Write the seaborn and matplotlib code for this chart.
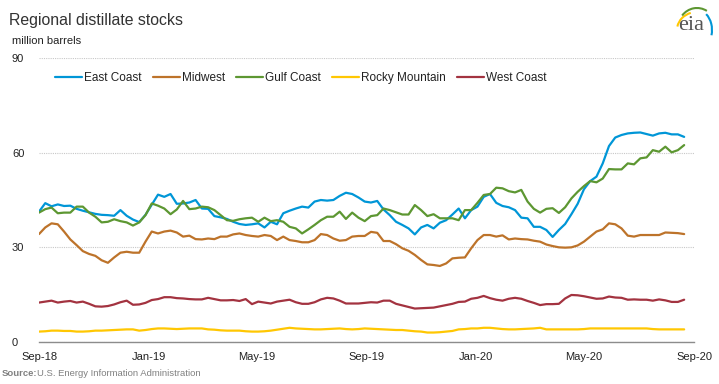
import pandas as pd
import matplotlib
matplotlib.use("Agg")
import matplotlib.pyplot as plt
import matplotlib.dates as mdates
from matplotlib.patches import Arc
from matplotlib.transforms import IdentityTransform
import seaborn as sns

# weekly stocks, million barrels, 2018-08-31 .. 2020-08-21
dates = pd.date_range("2018-08-31", periods=104, freq="7D")

east_coast = [41.3, 44.0, 43.0, 43.6, 43.1, 43.2, 42.2, 41.6, 41.1, 40.6,
              40.3, 40.2, 40.0, 41.8, 40.0, 38.8, 38.0, 40.3, 43.5, 46.7,
              46.0, 46.9, 43.8, 43.9, 44.2, 45.0, 42.3, 42.2, 39.9, 39.5,
              39.0, 38.1, 37.4, 37.1, 37.3, 37.6, 36.3, 38.1, 37.3, 40.8,
              41.6, 42.3, 42.9, 42.6, 44.5, 45.0, 44.8, 45.0, 46.3, 47.3,
              46.9, 45.8, 44.5, 44.2, 44.7, 42.0, 40.2, 38.1, 37.1, 36.0,
              34.1, 36.3, 37.1, 36.0, 37.8, 38.6, 40.4, 42.3, 39.2, 41.8,
              42.9, 46.0, 46.9, 44.1, 43.1, 42.7, 41.8, 39.4, 39.2, 36.5,
              36.5, 35.5, 33.3, 35.5, 37.4, 40.5, 43.8, 48.4, 51.0, 52.4,
              56.6, 62.1, 64.8, 65.6, 66.1, 66.3, 66.4, 65.9, 65.4, 66.1,
              66.3, 65.8, 65.8, 65.0]

midwest = [34.2, 36.3, 37.6, 37.3, 35.0, 32.5, 30.7, 28.8, 27.9, 27.3,
           25.9, 25.1, 26.8, 28.3, 28.6, 28.3, 28.3, 31.8, 35.0, 34.4,
           35.0, 35.3, 34.7, 33.4, 33.7, 32.6, 32.5, 32.8, 32.6, 33.4,
           33.4, 34.1, 34.4, 33.9, 33.6, 33.4, 33.9, 33.6, 32.3, 33.4,
           32.3, 32.0, 31.6, 31.6, 32.3, 34.2, 33.9, 32.8, 32.1, 32.3,
           33.4, 33.6, 33.6, 34.9, 34.6, 32.0, 32.0, 31.0, 29.7, 28.9,
           27.6, 26.0, 24.6, 24.4, 24.1, 24.9, 26.5, 26.7, 26.8, 29.7,
           32.3, 33.9, 33.9, 33.4, 33.8, 32.5, 32.8, 32.6, 32.5, 32.1,
           31.8, 30.9, 30.4, 30.0, 29.9, 30.0, 30.6, 31.8, 33.4, 35.0,
           35.7, 37.6, 37.3, 36.0, 33.7, 33.4, 33.9, 33.9, 33.9, 33.9,
           34.7, 34.6, 34.5, 34.2]

gulf_coast = [41.0, 42.1, 42.6, 40.8, 41.0, 41.0, 42.9, 42.9, 41.0, 39.7,
              37.9, 38.1, 38.9, 38.3, 37.9, 36.9, 37.9, 40.2, 43.9, 43.2,
              42.3, 40.5, 42.0, 44.7, 42.1, 42.3, 42.9, 42.7, 41.8, 40.2,
              38.6, 38.4, 38.9, 39.2, 39.4, 38.1, 39.4, 38.3, 38.6, 38.1,
              36.5, 36.0, 34.4, 35.7, 37.1, 38.6, 39.7, 39.7, 41.3, 39.0,
              41.0, 39.4, 38.3, 39.9, 40.2, 42.3, 41.8, 41.1, 40.4, 40.4,
              43.4, 41.8, 39.9, 40.5, 39.2, 39.2, 39.2, 38.6, 41.8, 41.8,
              44.1, 46.6, 46.9, 48.9, 48.7, 47.8, 47.4, 48.2, 44.5, 42.2,
              41.0, 42.2, 42.4, 40.9, 42.7, 45.5, 47.6, 49.4, 51.0, 50.6,
              51.8, 54.8, 54.7, 54.7, 56.6, 56.3, 58.2, 58.5, 60.8, 60.3,
              61.9, 60.1, 60.8, 62.4]

rocky_mountain = [3.3, 3.4, 3.6, 3.6, 3.5, 3.5, 3.3, 3.3, 3.4, 3.6,
                  3.6, 3.7, 3.8, 3.9, 4.0, 4.0, 3.6, 3.8, 4.1, 4.3,
                  4.3, 4.2, 4.1, 4.2, 4.3, 4.3, 4.3, 4.0, 3.9, 3.7,
                  3.6, 3.6, 3.6, 3.4, 3.3, 3.3, 3.4, 3.6, 3.9, 4.2,
                  4.5, 4.3, 4.2, 4.1, 4.0, 4.0, 4.1, 4.2, 4.3, 4.1,
                  4.0, 4.1, 4.3, 4.2, 4.1, 4.0, 3.9, 3.8, 3.8, 3.6,
                  3.4, 3.3, 3.0, 3.0, 3.1, 3.3, 3.5, 4.0, 4.1, 4.3,
                  4.3, 4.5, 4.5, 4.3, 4.1, 4.0, 4.0, 4.1, 4.2, 4.3,
                  4.5, 4.0, 4.0, 4.0, 4.0, 4.0, 4.0, 4.1, 4.3, 4.3,
                  4.3, 4.3, 4.3, 4.3, 4.3, 4.3, 4.3, 4.3, 4.1, 4.0,
                  4.0, 4.0, 4.0, 4.0]

west_coast = [12.5, 12.8, 13.1, 12.5, 12.8, 13.0, 12.5, 12.8, 12.1, 11.3,
              11.2, 11.4, 11.9, 12.6, 13.1, 11.8, 11.9, 12.4, 13.3, 13.6,
              14.2, 14.2, 13.9, 13.8, 13.6, 13.5, 13.5, 14.0, 13.6, 13.2,
              13.2, 13.3, 13.0, 13.6, 12.0, 12.8, 12.5, 12.2, 12.8, 13.1,
              13.4, 12.6, 12.1, 12.1, 12.6, 13.5, 14.0, 13.8, 13.1, 12.2,
              12.2, 12.2, 12.4, 12.6, 12.5, 13.1, 13.1, 12.1, 11.6, 11.1,
              10.6, 10.7, 10.8, 10.9, 11.3, 11.7, 12.1, 12.7, 12.8, 13.7,
              14.0, 14.6, 13.9, 13.4, 13.1, 13.7, 14.0, 13.7, 13.0, 12.4,
              11.7, 12.0, 12.0, 12.1, 13.8, 14.9, 14.8, 14.5, 14.1, 13.7,
              13.8, 14.4, 14.1, 14.0, 13.4, 13.5, 13.4, 13.4, 13.1, 13.5,
              13.2, 12.7, 12.7, 13.4]

regions = ["East Coast", "Midwest", "Gulf Coast", "Rocky Mountain", "West Coast"]
colors = ["#0096d7", "#bd732a", "#5d9732", "#ffc702", "#a33340"]
ytick_vals = [0, 30, 60, 90]
xtick_dates = ["2018-09-01", "2019-01-01", "2019-05-01", "2019-09-01",
               "2020-01-01", "2020-05-01", "2020-09-01"]

df = pd.DataFrame({"date": dates,
                   "East Coast": east_coast,
                   "Midwest": midwest,
                   "Gulf Coast": gulf_coast,
                   "Rocky Mountain": rocky_mountain,
                   "West Coast": west_coast})
df_long = df.melt(id_vars="date", var_name="region", value_name="stocks")

sns.set_style("white")
plt.rcParams["font.family"] = ["Liberation Sans", "DejaVu Sans"]

fig = plt.figure(figsize=(7.19, 3.84), dpi=100)
ax = fig.add_axes([39 / 719, 1 - 342 / 384, 655 / 719, 284 / 384])

sns.lineplot(data=df_long, x="date", y="stocks", hue="region",
             hue_order=regions, palette=dict(zip(regions, colors)),
             linewidth=1.6, ax=ax)

ax.set_xlim(pd.Timestamp("2018-08-31"), pd.Timestamp("2020-09-01"))
ax.set_ylim(0, 90)
ax.set_yticks(ytick_vals)
ax.set_xticks(pd.to_datetime(xtick_dates))
ax.xaxis.set_major_formatter(mdates.DateFormatter("%b-%y"))
ax.set_xlabel("")
ax.set_ylabel("")

ax.yaxis.grid(True, color="#c8c8c8", linestyle=(0, (1, 1)), linewidth=0.8)
ax.xaxis.grid(False)
for side in ["top", "right", "left"]:
    ax.spines[side].set_visible(False)
ax.spines["bottom"].set_color("#8c8c8c")
ax.spines["bottom"].set_linewidth(1.0)

ax.tick_params(axis="x", length=4, width=1, color="#8c8c8c", pad=3,
               labelsize=8, labelcolor="#222222")
ax.tick_params(axis="y", length=0, pad=19.5, labelsize=8, labelcolor="#222222")
for lab in ax.get_yticklabels():
    lab.set_horizontalalignment("left")

handles, labels = ax.get_legend_handles_labels()
ax.legend(handles, labels, ncol=5, frameon=False, loc="center left",
          bbox_to_anchor=(16 / 655, 0.93), borderpad=0, borderaxespad=0,
          handlelength=2.3, handletextpad=0.15, columnspacing=0.95,
          fontsize=8.5, labelcolor="#222222")

fig.text(9 / 719, 1 - 20 / 384, "Regional distillate stocks", fontsize=11.4,
         color="#333333", va="center", ha="left")
fig.text(12 / 719, 1 - 40.5 / 384, "million barrels", fontsize=8,
         color="#222222", va="center", ha="left")
fig.text(2 / 719, 1 - 373 / 384, "Source:", fontsize=6.8, fontweight="bold",
         color="#808080", va="center", ha="left")
fig.text(37 / 719, 1 - 373 / 384, "U.S. Energy Information Administration",
         fontsize=6.8, color="#808080", va="center", ha="left")

# eia logo
fig.text(691 / 719, 1 - 25 / 384, "eia", fontsize=16, color="#555555",
         family=["Liberation Serif", "DejaVu Serif"], va="center", ha="center")
px = IdentityTransform()
fig.add_artist(Arc((697, 384 - 30), 40, 36, theta1=110, theta2=170,
                   color="#ffc702", lw=1.5, transform=px))
fig.add_artist(Arc((697, 384 - 28), 38, 40, theta1=60, theta2=140,
                   color="#5d9732", lw=1.5, transform=px))
fig.add_artist(Arc((697, 384 - 30), 30, 40, theta1=-20, theta2=60,
                   color="#0096d7", lw=1.5, transform=px))

fig.savefig("out.png", dpi=100)
